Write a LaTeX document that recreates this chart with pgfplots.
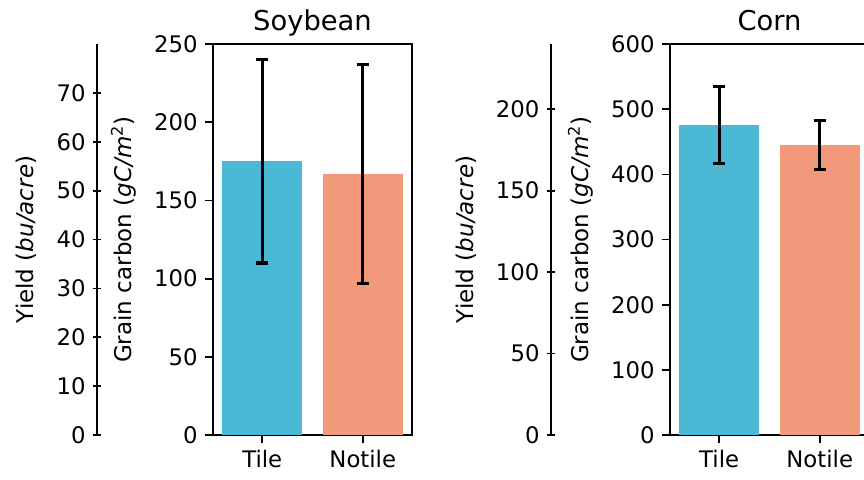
\documentclass[border=0pt]{standalone}
\usepackage{pgfplots}
\pgfplotsset{compat=1.18}
\usepackage{fontspec}
\setmainfont{DejaVu Sans}
\definecolor{tilec}{HTML}{4BB8D5}
\definecolor{notilec}{HTML}{F2997B}
\pgfplotsset{
  base/.style={
    scale only axis,
    anchor=south west,
    height=180.1pt,
    tick align=outside,
    major tick length=3.5pt,
    every tick/.style={black, line width=0.8pt},
    axis line style={line width=0.8pt},
    /pgf/number format/assume math mode=true,
    tick label style={font=\fontsize{10.5}{12.5}\selectfont},
    label style={font=\fontsize{10.6}{12.5}\selectfont},
    title style={font=\fontsize{12.6}{15}\selectfont, at={(0.5,1)}, anchor=base, yshift=0.4pt},
    ymin=0,
  },
  yieldax/.style={
    base,
    width=1pt,
    xmin=0, xmax=1,
    axis x line=none,
    axis y line=left,
    y axis line style={-, line width=0.8pt},
    ylabel={Yield (\textit{bu/acre})},
    ylabel style={yshift=2.2pt},
  },
  mainax/.style={
    base,
    width=91.7pt,
    xmin=-0.49, xmax=1.49,
    xtick={0,1},
    xticklabels={Tile,Notile},
    tick pos=left,
    ylabel={Grain carbon (\textit{gC/m}\textsuperscript{2})},
    ylabel style={yshift=1.4pt},
  },
  errbar/.style={
    ybar, bar width=0.8, bar shift=0pt, draw=none,
    error bars/.cd, y dir=both, y explicit,
    error bar style={line width=1.4pt, black},
    error mark options={rotate=90, mark size=2.7pt, line width=1.4pt, black},
  },
}
\begin{document}
\begin{tikzpicture}
% Soybean yield axis
\begin{axis}[yieldax, at={(44.7pt,20.7pt)}, ymax=80, ytick={0,10,...,70}]
\end{axis}
% Soybean grain carbon
\begin{axis}[mainax, at={(98.1pt,20.7pt)}, ymax=250, ytick={0,50,...,250}, title={Soybean}]
\addplot[fill=tilec, errbar] coordinates {(0,175) +- (0,65)};
\addplot[fill=notilec, errbar] coordinates {(1,167) +- (0,70)};
\end{axis}
% Corn yield axis
\begin{axis}[yieldax, at={(253.8pt,20.7pt)}, ymax=240, ytick={0,50,...,200}]
\end{axis}
% Corn grain carbon
\begin{axis}[mainax, at={(308.6pt,20.7pt)}, ymax=600, ytick={0,100,...,600}, title={Corn}]
\addplot[fill=tilec, errbar] coordinates {(0,476) +- (0,59)};
\addplot[fill=notilec, errbar] coordinates {(1,445) +- (0,37)};
\end{axis}
\pgfresetboundingbox
\path[use as bounding box] (0,0) rectangle (398pt,221.1pt);
\end{tikzpicture}
\end{document}
